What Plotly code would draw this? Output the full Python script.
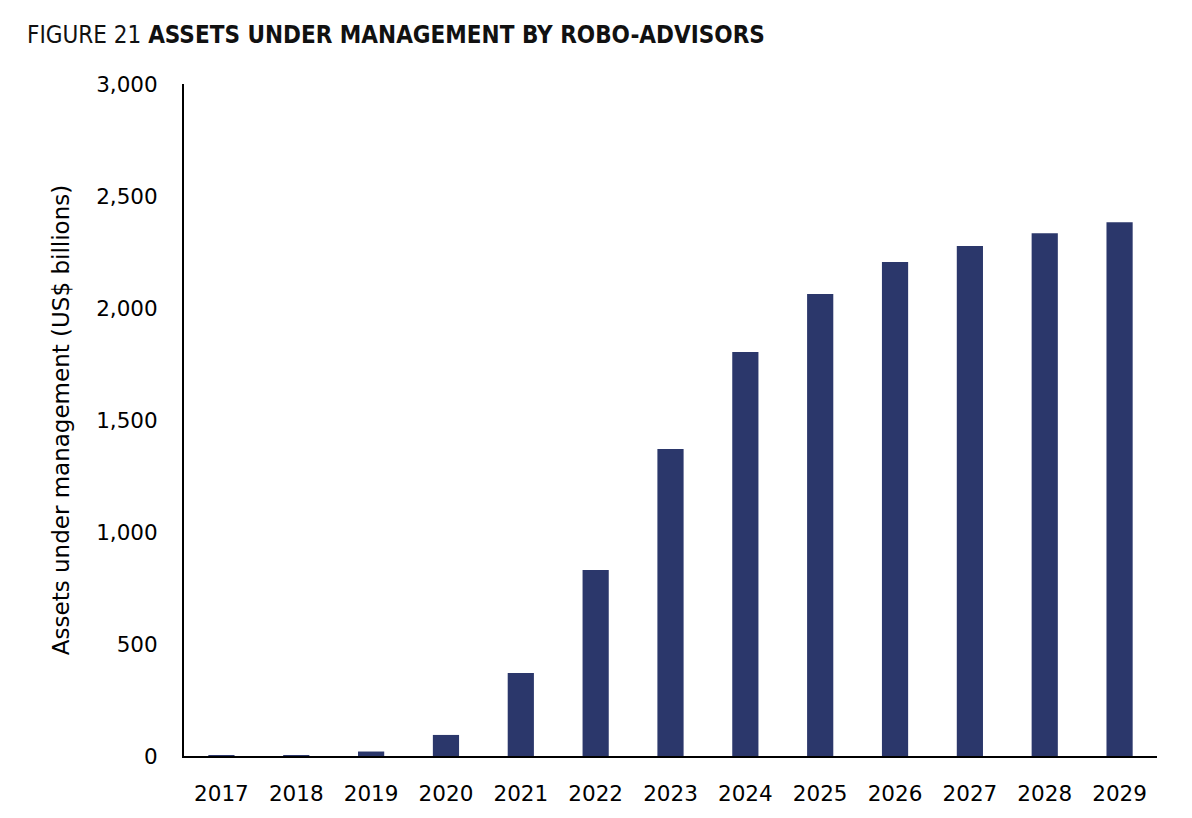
import plotly.graph_objects as go

years = ["2017", "2018", "2019", "2020", "2021", "2022", "2023", "2024",
         "2025", "2026", "2027", "2028", "2029"]
aum = [3, 4, 20, 94, 370, 830, 1370, 1804, 2062, 2205, 2277, 2334, 2383]
y_ticks = [0, 500, 1000, 1500, 2000, 2500, 3000]
y_tick_labels = ["0", "500", "1,000", "1,500", "2,000", "2,500", "3,000"]

bar_color = "#2b376b"
font_family = "DejaVu Sans, sans-serif"

fig = go.Figure()
fig.add_trace(go.Bar(
    x=years, y=aum, marker=dict(color=bar_color, line=dict(width=0)),
    width=0.35, hoverinfo="x+y",
))

fig.update_layout(
    width=1192, height=818,
    margin=dict(l=176, r=43, t=76, b=70, autoexpand=False),
    paper_bgcolor="white", plot_bgcolor="white",
    showlegend=False,
    font=dict(family=font_family, color="black", size=21),
    title=dict(
        text="FIGURE 21 <b>ASSETS UNDER MANAGEMENT BY ROBO-ADVISORS</b>",
        x=19 / 1192, xanchor="left", y=1 - 27 / 818, yanchor="middle",
        font=dict(family="DejaVu Sans Condensed, sans-serif",
                  size=24, color="#111111"),
    ),
)

fig.update_xaxes(
    type="category", range=[-0.5, 12.5],
    showline=True, linecolor="black", linewidth=1.5,
    showgrid=False, zeroline=False,
    ticks="outside", ticklen=17, tickcolor="rgba(0,0,0,0)",
    tickfont=dict(size=21.5, family=font_family),
)
fig.update_yaxes(
    range=[0, 3000], tickvals=y_ticks, ticktext=y_tick_labels,
    showline=True, linecolor="black", linewidth=2,
    showgrid=False, zeroline=False,
    ticks="outside", ticklen=20, tickcolor="rgba(0,0,0,0)",
    tickfont=dict(size=21.5, family=font_family),
    title=dict(text="Assets under management (US$ billions)",
               font=dict(size=23, family=font_family), standoff=20),
)

fig.write_html("out.html")
